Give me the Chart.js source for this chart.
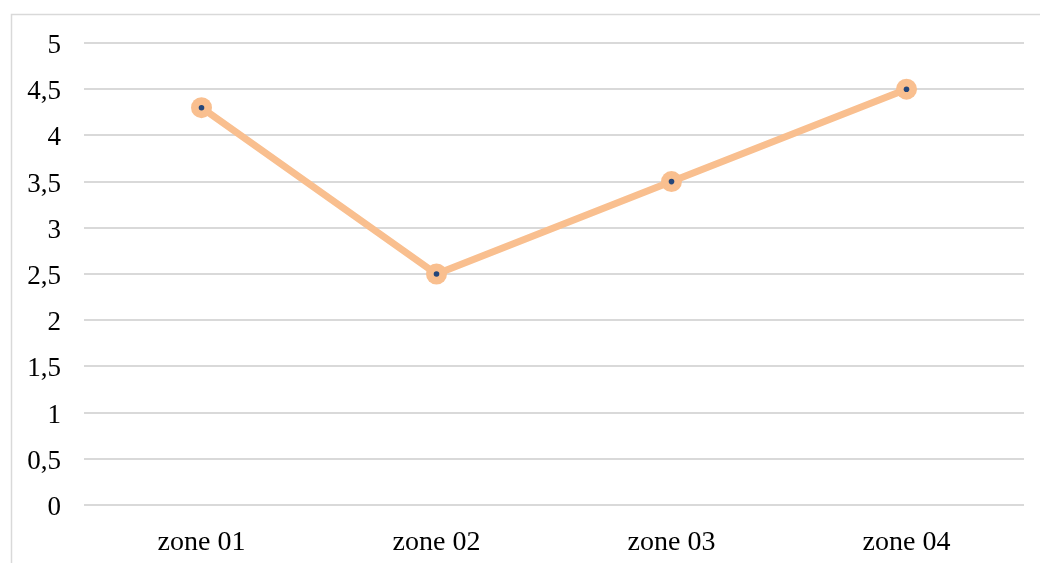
<!DOCTYPE html>
<html>
<head>
<meta charset="utf-8">
<script src="https://cdn.jsdelivr.net/npm/chart.js@4/dist/chart.umd.min.js"></script>
<style>
  html, body { margin: 0; padding: 0; background: #ffffff; }
  #wrap { position: relative; width: 1040px; height: 563px; }
</style>
</head>
<body>
<div id="wrap"><canvas id="c" width="1040" height="563"></canvas></div>
<script>
const categories = ['zone 01', 'zone 02', 'zone 03', 'zone 04'];
const zoneValues = [4.3, 2.5, 3.5, 4.5];
const yMin = 0;
const yMax = 5;
const yStep = 0.5;

const lineColor = '#F9BF8F';
const dotColor = '#24467A';
const gridColor = '#D9D9D9';
const fontFamily = '"Liberation Serif", "Times New Roman", serif';

// light frame around the chart
const framePlugin = {
  id: 'frame',
  beforeDraw(chart) {
    const ctx = chart.ctx;
    ctx.save();
    ctx.fillStyle = '#ffffff';
    ctx.fillRect(0, 0, chart.width, chart.height);
    ctx.strokeStyle = '#D9D9D9';
    ctx.lineWidth = 1.5;
    ctx.strokeRect(11.5, 14.5, chart.width + 10, chart.height + 10);
    ctx.restore();
  }
};

new Chart(document.getElementById('c'), {
  type: 'line',
  data: {
    labels: categories,
    datasets: [
      {
        // the line with its round markers
        data: zoneValues,
        order: 2,
        borderColor: lineColor,
        backgroundColor: lineColor,
        borderWidth: 7,
        pointRadius: 10.5,
        pointHoverRadius: 10.5,
        pointBorderWidth: 0,
        pointBackgroundColor: lineColor,
        tension: 0
      },
      {
        // small dark centre dot on each marker
        data: zoneValues,
        order: 1,
        showLine: false,
        pointRadius: 2.8,
        pointHoverRadius: 2.8,
        pointBorderWidth: 0,
        pointBackgroundColor: dotColor
      }
    ]
  },
  options: {
    responsive: false,
    animation: false,
    events: [],
    layout: { padding: { left: 0, right: 16, top: 43, bottom: 0 } },
    plugins: {
      legend: { display: false },
      tooltip: { enabled: false }
    },
    scales: {
      x: {
        offset: true,
        grid: { display: false, drawTicks: false },
        border: { display: false },
        ticks: {
          color: '#000000',
          padding: 21,
          font: { family: fontFamily, size: 28 }
        },
        afterFit(scale) { scale.height = 58; }
      },
      y: {
        min: yMin,
        max: yMax,
        grid: { color: gridColor, lineWidth: 2, drawTicks: false },
        border: { display: false },
        ticks: {
          stepSize: yStep,
          color: '#000000',
          padding: 23,
          labelOffset: 3,
          font: { family: fontFamily, size: 27 },
          callback: (v) => String(v).replace('.', ',')
        },
        afterFit(scale) { scale.width = 84; }
      }
    }
  },
  plugins: [framePlugin]
});
</script>
</body>
</html>
